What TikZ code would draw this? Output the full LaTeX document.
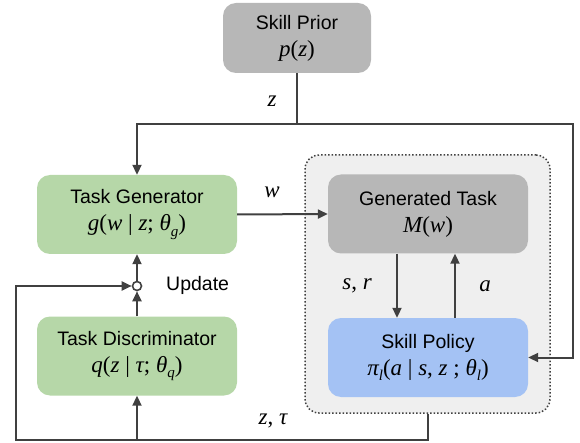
\documentclass[tikz,border=0pt]{standalone}
\usepackage{fontspec}
\setmainfont{Liberation Sans}
\newfontfamily\serf{Liberation Serif}
\usetikzlibrary{arrows.meta}
\newcommand\ml[1]{{\serf\fontsize{23}{26}\selectfont #1}}
\newcommand\iv[1]{{\itshape #1}}
\newcommand\sbs[1]{\raisebox{-0.5ex}{\fontsize{15}{15}\selectfont\itshape #1}}
\definecolor{lineC}{HTML}{404040}
\definecolor{grayF}{HTML}{B7B7B7}
\definecolor{greenF}{HTML}{B6D7A8}
\definecolor{blueF}{HTML}{A4C2F4}
\definecolor{frameF}{HTML}{EFEFEF}
\tikzset{
  box/.style={rounded corners=13pt, minimum width=200pt, minimum height=79pt, align=center, inner sep=0pt,
    font=\fontsize{19.5}{25}\selectfont, text=black},
  conn/.style={draw=lineC, line width=2pt},
  arr/.style={conn, -{Triangle[length=10pt,width=9pt]}},
  lbl/.style={inner sep=0pt}
}
\begin{document}
\begin{tikzpicture}[x=1pt,y=-1pt]
\useasboundingbox (0,0) rectangle (580,443);
\node[draw=lineC, dotted, line width=1.5pt, fill=frameF, rounded corners=14pt, minimum width=245pt, minimum height=258pt] (frame) at (427.5,284) {};
\node[box, fill=grayF, minimum width=148pt, minimum height=70pt] (prior) at (297,38) {Skill Prior\\[2pt]\ml{\iv{p}(\iv{z})}};
\node[box, fill=greenF] (tg) at (137,214.5) {Task Generator\\[2pt]\ml{\iv{g}(\iv{w} | \iv{z}; \iv{θ}\sbs{g})}};
\node[box, fill=greenF] (td) at (137,356) {Task Discriminator\\[2pt]\ml{\iv{q}(\iv{z} | \iv{τ}; \iv{θ}\sbs{q})}};
\node[box, fill=grayF] (gt) at (428,214) {Generated Task\\[2pt]\ml{\iv{M}(\iv{w})}};
\node[box, fill=blueF] (sp) at (428,357.5) {Skill Policy\\[2pt]\ml{\iv{π}\sbs{l}(\iv{a} | \iv{s}, \iv{z} ; \iv{θ}\sbs{l})}};
\node[circle, draw=lineC, line width=1.6pt, fill=white, minimum size=9pt, inner sep=0pt] (upd) at (137,286) {};
\node[anchor=west, font=\fontsize{19.5}{24}\selectfont, inner sep=0pt] (updl) at (166,285) {Update};
\coordinate (join) at (297,124);
\coordinate (tr) at (573,124);
\coordinate (bl) at (16,440);
\coordinate (br) at (427.5,440);
\coordinate (lu) at (16,286);
% connectors
\draw[conn] (prior.south) -- (join);
\draw[arr] (join) -| (tg.north);
\draw[arr] (join) -- (tr) |- (sp.east);
\draw[arr] (tg.east) -- (gt.west);
\draw[arr] ([xshift=-31pt]gt.south) -- ([xshift=-31pt]gt.south |- sp.north);
\draw[arr] ([xshift=27pt]sp.north) -- ([xshift=27pt]sp.north |- gt.south);
\draw[arr] (upd) -- (tg.south);
\draw[arr] (td.north) -- (upd.south);
\draw[arr] (frame.south) -- (br) -- (bl) -- (lu) -- (upd.west);
\draw[arr] (td.south |- bl) -- (td.south);
% labels
\node[lbl] (lz) at (272,101) {\ml{\iv{z}}};
\node[lbl] (lw) at (272,192) {\ml{\iv{w}}};
\node[lbl] (lsr) at (357,286) {\ml{\iv{s}, \iv{r}}};
\node[lbl] (la) at (485,286) {\ml{\iv{a}}};
\node[lbl] (lzt) at (273,421) {\ml{\iv{z}, \iv{τ}}};
\end{tikzpicture}
\end{document}
